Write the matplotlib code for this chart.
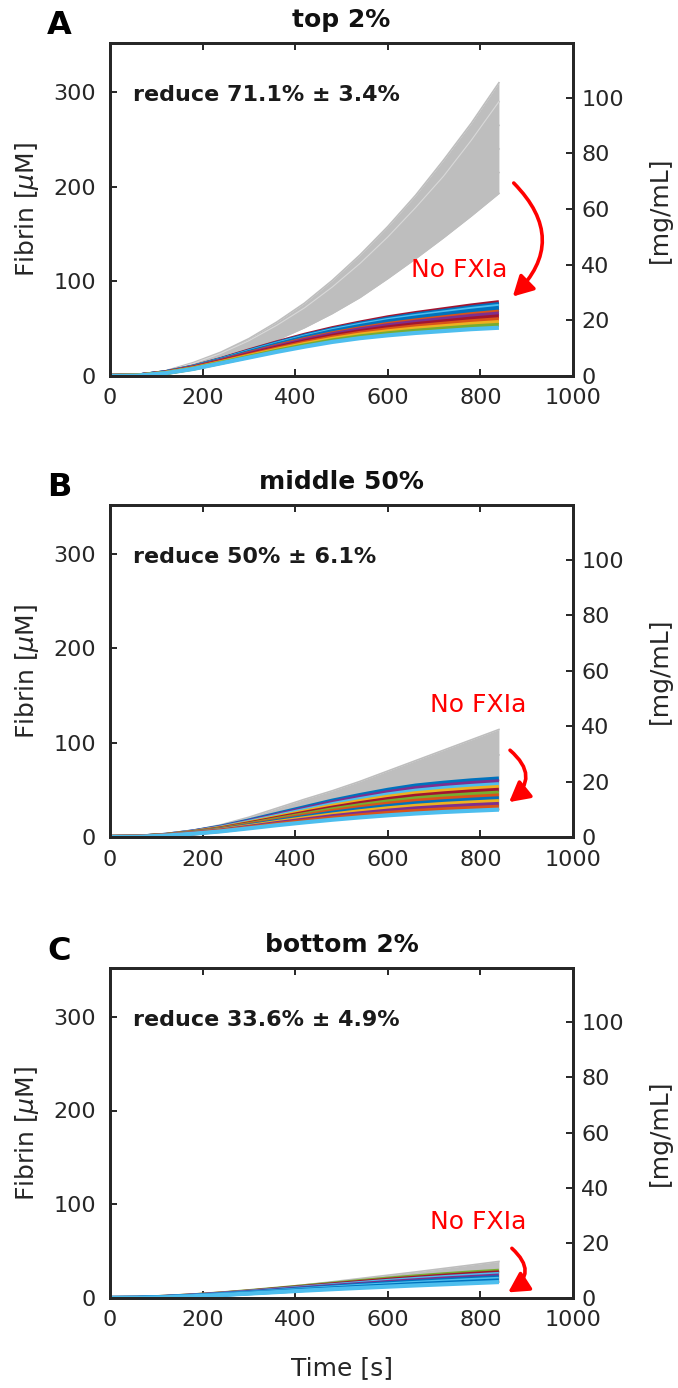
import matplotlib
matplotlib.use("Agg")
import matplotlib.pyplot as plt
from matplotlib.patches import FancyArrowPatch

plt.rcParams['font.family'] = ['DejaVu Sans']
plt.rcParams['mathtext.fontset'] = 'dejavusans'

# ---------------- data ----------------
time_s = [0, 60, 120, 180, 240, 300, 360, 420, 480, 540, 600, 660, 720, 780, 840]

panel_letters = ["A", "B", "C"]
panel_titles = ["top 2%", "middle 50%", "bottom 2%"]
reduce_texts = ["reduce 71.1% \u00b1 3.4%", "reduce 50% \u00b1 6.1%", "reduce 33.6% \u00b1 4.9%"]

# gray = with FXIa (many simulations), listed from lowest to highest
gray_A = [
    [0, 0.6, 4.0, 10.0, 17.5, 27.0, 38.0, 51.0, 66.0, 83.0, 103, 124, 146, 169, 193],
    [0, 0.6, 4.3, 11.0, 19.5, 30.0, 42.5, 57.0, 74.0, 93.5, 115, 138, 163, 189, 215],
    [0, 0.7, 4.6, 11.7, 21.0, 32.5, 46.5, 62.5, 81.0, 102, 126, 152, 179, 209, 240],
    [0, 0.7, 5.0, 12.5, 22.5, 35.0, 50.0, 67.0, 87.0, 110, 136, 164, 194, 229, 265],
    [0, 0.8, 5.2, 13.3, 24.0, 37.3, 53.5, 72.0, 94.0, 119, 147, 178, 211, 249, 290],
    [0, 0.8, 5.5, 14.2, 25.3, 39.5, 57.0, 77.0, 101, 128, 158, 191, 228, 267, 310],
]
gray_B = [
    [0, 0.2, 1.5, 3.5, 6.0, 9.2, 12.5, 15.5, 18.3, 20.8, 23.0, 24.9, 26.5, 27.8, 29.0],
    [0, 0.25, 2.0, 5.0, 9.0, 14.0, 19.5, 25.0, 30.5, 36.0, 41.5, 46.5, 51.0, 55.5, 60.0],
    [0, 0.3, 2.2, 6.0, 11.0, 17.5, 25.0, 32.5, 40.0, 47.5, 55.5, 63.5, 71.0, 79.0, 87.0],
    [0, 0.3, 2.5, 7.0, 13.0, 21.0, 30.5, 40.0, 49.0, 59.0, 70.0, 81.0, 92.0, 103, 114],
]
gray_C = [
    [0, 0.1, 0.8, 1.9, 3.2, 4.7, 6.3, 7.9, 9.4, 10.8, 12.1, 13.4, 14.6, 15.8, 17.0],
    [0, 0.15, 1.1, 2.5, 4.3, 6.4, 8.7, 11.0, 13.4, 15.8, 18.2, 20.6, 23.0, 25.5, 28.0],
    [0, 0.2, 1.3, 3.0, 5.2, 7.8, 10.8, 14.0, 17.3, 20.8, 24.3, 27.8, 31.5, 35.2, 39.0],
]

# colored = No FXIa (one color per simulation, MATLAB colour order)
color_A = [
    [0, 0.5, 4.0, 10.0, 18.0, 27.0, 35.5, 43.5, 50.5, 56.5, 62.0, 66.5, 70.5, 74.5, 78],
    [0, 0.5, 3.9, 9.8, 17.7, 26.4, 34.8, 42.6, 49.4, 55.3, 60.6, 65.0, 68.8, 72.6, 76],
    [0, 0.5, 3.9, 9.6, 17.3, 25.9, 34.0, 41.6, 48.4, 54.1, 59.2, 63.4, 67.1, 70.8, 74],
    [0, 0.5, 3.8, 9.4, 17.0, 25.3, 33.3, 40.7, 47.3, 52.8, 57.8, 61.8, 65.4, 68.9, 72],
    [0, 0.5, 3.7, 9.3, 16.7, 24.8, 32.5, 39.8, 46.2, 51.6, 56.4, 60.3, 63.7, 67.1, 70],
    [0, 0.5, 3.6, 9.1, 16.3, 24.2, 31.8, 38.9, 45.1, 50.4, 55.0, 58.7, 62.0, 65.3, 68],
    [0, 0.5, 3.6, 8.9, 16.0, 23.7, 31.0, 38.0, 44.1, 49.2, 53.6, 57.2, 60.3, 63.4, 66],
    [0, 0.4, 3.4, 8.6, 15.5, 22.8, 29.9, 36.6, 42.4, 47.3, 51.4, 54.8, 57.7, 60.6, 63],
    [0, 0.4, 3.3, 8.3, 15.0, 22.0, 28.8, 35.2, 40.8, 45.5, 49.3, 52.5, 55.2, 57.8, 60],
    [0, 0.4, 3.2, 8.1, 14.5, 21.2, 27.7, 33.8, 39.2, 43.7, 47.2, 50.2, 52.6, 55.0, 57],
    [0, 0.4, 3.1, 7.8, 14.0, 20.3, 26.6, 32.4, 37.6, 41.8, 45.1, 47.8, 50.1, 52.3, 54],
    [0, 0.4, 3.0, 7.5, 13.5, 19.5, 25.5, 31.0, 36.0, 40.0, 43.0, 45.5, 47.5, 49.5, 51],
]
colors_A = ["#A2142F", "#0072BD", "#4DBEEE", "#0072BD", "#0072BD", "#D95319",
            "#7E2F8E", "#A2142F", "#D95319", "#EDB120", "#77AC30", "#4DBEEE"]

color_B = [
    [0, 0.3, 2.3, 6.0, 11.0, 17.5, 24.5, 31.5, 38.5, 44.5, 50.0, 54.5, 57.5, 60.0, 62],
    [0, 0.3, 2.2, 5.8, 10.5, 16.7, 23.4, 30.0, 36.7, 42.3, 47.5, 51.8, 54.7, 57.1, 59],
    [0, 0.3, 2.2, 5.5, 10.1, 16.0, 22.3, 28.6, 34.8, 40.2, 45.1, 49.1, 51.9, 54.1, 56],
    [0, 0.3, 2.1, 5.3, 9.6, 15.2, 21.2, 27.1, 33.0, 38.0, 42.6, 46.4, 49.0, 51.2, 53],
    [0, 0.3, 2.0, 5.1, 9.2, 14.5, 20.1, 25.7, 31.1, 35.9, 40.2, 43.7, 46.2, 48.3, 50],
    [0, 0.3, 1.9, 4.9, 8.7, 13.7, 19.0, 24.2, 29.3, 33.7, 37.7, 41.0, 43.4, 45.3, 47],
    [0, 0.2, 1.9, 4.6, 8.3, 13.0, 17.9, 22.8, 27.5, 31.6, 35.3, 38.4, 40.6, 42.4, 44],
    [0, 0.2, 1.8, 4.4, 7.8, 12.2, 16.9, 21.3, 25.7, 29.4, 32.8, 35.7, 37.8, 39.5, 41],
    [0, 0.2, 1.7, 4.2, 7.4, 11.5, 15.8, 19.9, 23.8, 27.3, 30.4, 33.0, 35.0, 36.6, 38],
    [0, 0.2, 1.6, 4.0, 6.9, 10.7, 14.7, 18.4, 22.0, 25.1, 27.9, 30.3, 32.1, 33.7, 35],
    [0, 0.2, 1.6, 3.7, 6.5, 10.0, 13.6, 17.0, 20.1, 23.0, 25.5, 27.6, 29.3, 30.7, 32],
    [0, 0.2, 1.5, 3.5, 6.0, 9.2, 12.5, 15.5, 18.3, 20.8, 23.0, 24.9, 26.5, 27.8, 29],
]
colors_B = ["#0072BD", "#7E2F8E", "#4DBEEE", "#EDB120", "#A2142F", "#77AC30",
            "#D95319", "#0072BD", "#EDB120", "#7E2F8E", "#D95319", "#4DBEEE"]

color_C = [
    [0, 0.2, 1.3, 2.9, 4.9, 7.3, 9.9, 12.6, 15.3, 18.0, 20.6, 23.0, 25.2, 27.2, 29.0],
    [0, 0.2, 1.2, 2.8, 4.7, 6.9, 9.4, 11.9, 14.5, 17.0, 19.4, 21.6, 23.7, 25.6, 27.3],
    [0, 0.2, 1.2, 2.6, 4.4, 6.6, 8.9, 11.3, 13.6, 15.9, 18.2, 20.3, 22.2, 23.9, 25.6],
    [0, 0.2, 1.1, 2.5, 4.2, 6.2, 8.4, 10.6, 12.8, 14.9, 17.0, 18.9, 20.7, 22.3, 23.9],
    [0, 0.1, 1.0, 2.3, 3.9, 5.8, 7.8, 9.9, 11.9, 13.9, 15.7, 17.5, 19.1, 20.7, 22.1],
    [0, 0.1, 0.9, 2.2, 3.7, 5.4, 7.3, 9.2, 11.1, 12.9, 14.5, 16.1, 17.6, 19.1, 20.4],
    [0, 0.1, 0.9, 2.0, 3.4, 5.1, 6.8, 8.6, 10.2, 11.8, 13.3, 14.8, 16.1, 17.4, 18.7],
    [0, 0.1, 0.8, 1.9, 3.2, 4.7, 6.3, 7.9, 9.4, 10.8, 12.1, 13.4, 14.6, 15.8, 17.0],
]
colors_C = ["#77AC30", "#A2142F", "#4DBEEE", "#7E2F8E", "#0072BD", "#4DBEEE",
            "#0072BD", "#4DBEEE"]

# "No FXIa" annotation (text position, arrow start, arrow end) in data units
label_xy = [(755, 112), (796, 140), (796, 81)]
arrow_from = [(872, 204), (864, 92), (868, 53)]
arrow_to = [(870, 84), (862, 37), (860, 6)]
arrow_rad = [-0.5, -0.6, -0.65]

x_ticks = [0, 200, 400, 600, 800, 1000]
y_ticks = [0, 100, 200, 300]
y2_ticks = [0, 20, 40, 60, 80, 100]
uM_to_mgmL = 0.34
y_max = 352

# ---------------- figure ----------------
W, H = 678, 1388
fig = plt.figure(figsize=(W / 100, H / 100), dpi=100)

ax_px = [(43, 376), (505, 837), (968, 1298)]  # top, bottom in pixels
left_px, right_px = 110, 573

gray_sets = [gray_A, gray_B, gray_C]
col_sets = [color_A, color_B, color_C]
col_colors = [colors_A, colors_B, colors_C]

dark = "#262626"
gray_c = "#bebebe"

for i in range(3):
    top, bot = ax_px[i]
    ax = fig.add_axes([left_px / W, 1 - bot / H, (right_px - left_px) / W, (bot - top) / H])
    g = gray_sets[i]
    ax.fill_between(time_s, g[0], g[-1], color=gray_c, lw=0, zorder=1)
    for curve in g:
        ax.plot(time_s, curve, color=gray_c, lw=1.2, zorder=1.5)
    if i == 0:
        ax.plot(time_s, g[-2], color="#d9d9d9", lw=0.8, zorder=1.6)
    for curve, c in zip(col_sets[i], col_colors[i]):
        ax.plot(time_s, curve, color=c, lw=3.0, zorder=2, solid_capstyle="butt")

    ax.set_xlim(0, 1000)
    ax.set_ylim(0, y_max)
    ax.set_xticks(x_ticks)
    ax.set_yticks(y_ticks)
    ax.tick_params(axis="x", direction="in", top=True, length=5, width=1.4,
                   colors=dark, labelsize=16, pad=9)
    ax.tick_params(axis="y", direction="in", right=False, length=5, width=1.4,
                   colors=dark, labelsize=16, pad=10)
    for s in ax.spines.values():
        s.set_linewidth(2.0)
        s.set_color(dark)
    ax.set_ylabel("Fibrin [$\\mu$M]", fontsize=18, color=dark, va="center")
    ax.yaxis.set_label_coords((27 - left_px) / (right_px - left_px), 0.5)

    ax2 = ax.twinx()
    ax2.set_ylim(0, y_max * uM_to_mgmL)
    ax2.set_yticks(y2_ticks)
    ax2.tick_params(axis="y", direction="in", length=5, width=1.4, colors=dark,
                    labelsize=16, pad=6)
    for s in ax2.spines.values():
        s.set_linewidth(2.0)
        s.set_color(dark)
    ax2.set_ylabel("[mg/mL]", fontsize=18, color=dark, va="center", rotation=90)
    ax2.yaxis.set_label_coords((660 - left_px) / (right_px - left_px), 0.5)

    ax.text(50, 297, reduce_texts[i], fontsize=16, fontweight="bold",
            color="#1a1a1a", ha="left", va="center", zorder=5)

    ax.text(label_xy[i][0], label_xy[i][1], "No FXIa", fontsize=18, color="red",
            ha="center", va="center", zorder=5)
    arr = FancyArrowPatch(arrow_from[i], arrow_to[i],
                          connectionstyle=f"arc3,rad={arrow_rad[i]}",
                          arrowstyle="-|>,head_length=0.55,head_width=0.3",
                          mutation_scale=22, lw=2.6, color="red",
                          shrinkA=0, shrinkB=0, zorder=6)
    ax.add_patch(arr)

    if i == 2:
        ax.set_xlabel("Time [s]", fontsize=18, color=dark, va="center")
        ax.xaxis.set_label_coords(0.5, -(1368 - bot) / (bot - top))

    fig.text((right_px + left_px) / 2 / W, 1 - (top - 23) / H, panel_titles[i],
             fontsize=18, fontweight="bold", color="#111111", ha="center", va="center")
    fig.text(47 / W, 1 - (top - 17) / H, panel_letters[i], fontsize=23,
             fontweight="bold", color="black", ha="left", va="center")

fig.savefig("out.png", dpi=100)
